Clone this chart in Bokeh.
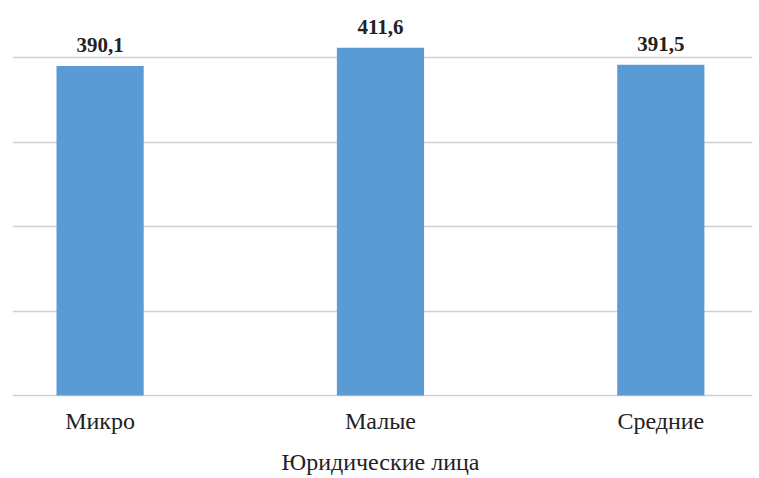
from bokeh.plotting import figure
from bokeh.models import FixedTicker, Range1d, ColumnDataSource
from bokeh.core.properties import value
from bokeh.embed import file_html
from bokeh.resources import INLINE

categories = ["Микро", "Малые", "Средние"]
values = [390.1, 411.6, 391.5]
labels = ["390,1", "411,6", "391,5"]
grid_ticks = [0, 100, 200, 300, 400]
x_title = "Юридические лица"

xs = list(range(len(categories)))
src = ColumnDataSource(dict(x=xs, top=values, lab=labels, cat=categories, zero=[0] * len(xs)))

p = figure(width=759, height=478, output_backend="svg", toolbar_location=None,
           x_range=Range1d(-0.3125, 2.327), y_range=Range1d(-98.2, 467.5),
           min_border_left=12, min_border_right=7, min_border_top=0, min_border_bottom=0)
p.outline_line_color = None
p.background_fill_color = "white"
p.border_fill_color = "white"
p.axis.visible = False

p.ygrid.ticker = FixedTicker(ticks=grid_ticks)
p.ygrid.grid_line_color = "#d0d0d0"
p.ygrid.grid_line_width = 1.5
p.xgrid.visible = False

p.vbar(x="x", top="top", bottom=0, width=0.311, source=src, color="#5B9BD5", line_color=None)

# value labels
p.text(x="x", y="top", text="lab", source=src, y_offset=-21, text_align="center",
       text_baseline="alphabetic", text_font=value("Liberation Serif"), text_font_style="bold",
       text_font_size="21px", text_color="#222222")

# category labels
p.text(x="x", y="zero", text="cat", source=src, y_offset=25, text_align="center",
       text_baseline="alphabetic", text_font=value("Liberation Serif"),
       text_font_size="24px", text_color="#222222")

# axis title
p.text(x=[1.0], y=[0], text=[x_title], y_offset=66, text_align="center",
       text_baseline="alphabetic", text_font=value("Liberation Serif"),
       text_font_size="24px", text_color="#222222")

open("out.html", "w").write(file_html(p, INLINE))
